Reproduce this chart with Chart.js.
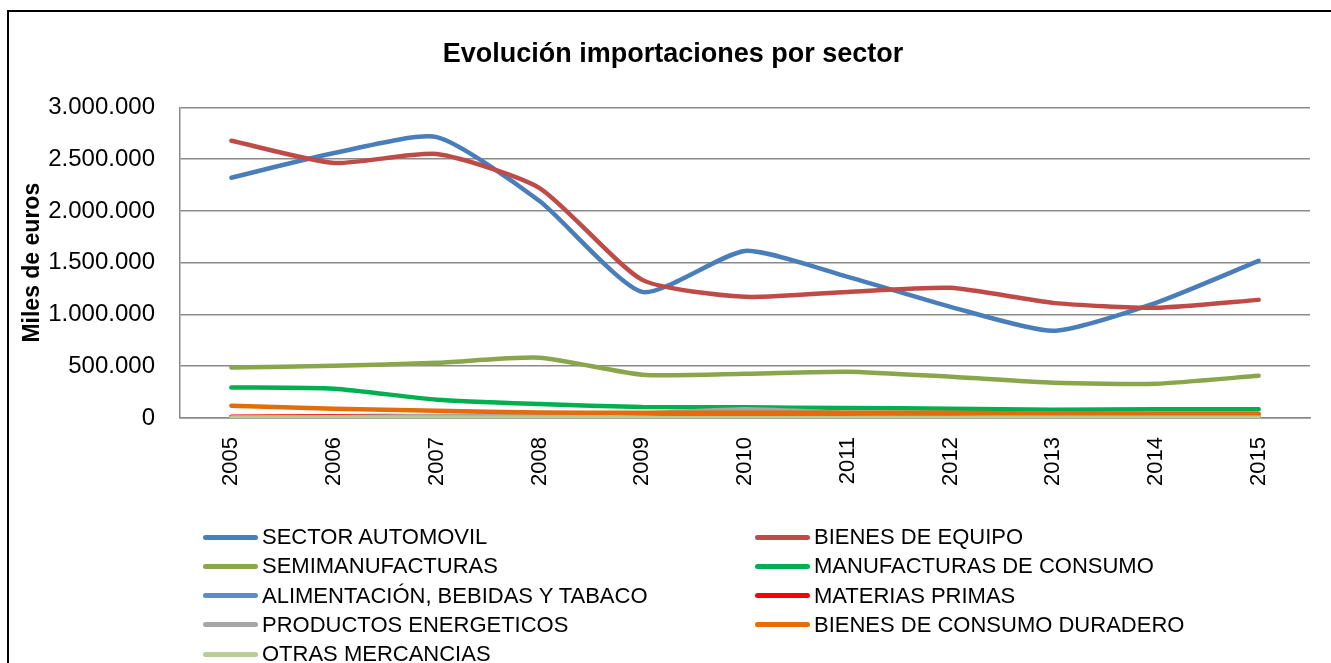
<!DOCTYPE html>
<html>
<head>
<meta charset="utf-8">
<script src="https://cdn.jsdelivr.net/npm/chart.js@4.4.1/dist/chart.umd.min.js"></script>
<style>
  html, body { margin: 0; padding: 0; background: #fff; overflow: hidden; }
  #wrap { position: relative; width: 1331px; height: 663px; overflow: hidden; }
  #marco { position: absolute; left: 7px; top: 10px; width: 1400px; height: 700px; border: 2px solid #000; box-sizing: border-box; pointer-events: none; }
  #grafico { position: absolute; left: 0; top: 0; }
  .ley-linea { position: absolute; width: 55px; height: 5px; border-radius: 3px; }
  .ley-texto { position: absolute; font: 22px "Liberation Sans", Arial, sans-serif; color: #000; line-height: 26px; white-space: nowrap; }
</style>
</head>
<body>
<div id="wrap">
  <canvas id="grafico" width="1331" height="663"></canvas>
  <div id="marco"></div>
  <div id="leyenda"></div>
</div>
<script>
// datos sacados del grafico (miles de euros)
const anios = ['2005', '2006', '2007', '2008', '2009', '2010', '2011', '2012', '2013', '2014', '2015'];

const sectorAutomovil  = [2321000, 2559000, 2713000, 2096000, 1218000, 1614000, 1363000, 1074000, 842000, 1112000, 1517000];
const bienesEquipo     = [2678000, 2463000, 2549000, 2221000, 1334000, 1170000, 1218000, 1257000, 1112000, 1064000, 1141000];
const semimanufacturas = [488000, 504000, 533000, 582000, 418000, 427000, 447000, 398000, 341000, 331000, 408000];
const manufConsumo     = [295000, 283000, 177000, 135000, 106000, 104000, 96000, 90000, 80000, 85000, 85000];
const alimentacion     = [4000, 4000, 4000, 3000, 3000, 3000, 3000, 3000, 3000, 3000, 3000];
const materiasPrimas   = [12000, 18000, 18000, 14000, 8000, 10000, 10000, 9000, 8000, 8000, 8000];
const prodEnergeticos  = [5000, 10000, 20000, 30000, 45000, 85000, 50000, 48000, 40000, 35000, 35000];
const consumoDuradero  = [119000, 90000, 70000, 54000, 51000, 51000, 50000, 50000, 42000, 40000, 40000];
const otrasMercancias  = [2000, 2000, 2000, 2000, 2000, 2000, 2000, 2000, 2000, 2000, 2000];

const nombres = ['SECTOR AUTOMOVIL', 'BIENES DE EQUIPO', 'SEMIMANUFACTURAS', 'MANUFACTURAS DE CONSUMO',
  'ALIMENTACIÓN, BEBIDAS Y TABACO', 'MATERIAS PRIMAS', 'PRODUCTOS ENERGETICOS',
  'BIENES DE CONSUMO DURADERO', 'OTRAS MERCANCIAS'];
const series = [sectorAutomovil, bienesEquipo, semimanufacturas, manufConsumo, alimentacion,
  materiasPrimas, prodEnergeticos, consumoDuradero, otrasMercancias];
const colores = ['#4A7EBB', '#BE4B48', '#8AA64C', '#00B050', '#558ED5', '#FF0000', '#A6A6A6', '#E46C0A', '#B7CD95'];

const yTicks = [0, 500000, 1000000, 1500000, 2000000, 2500000, 3000000];

// formato español con puntos
function conPuntos(v) {
  return String(v).replace(/\B(?=(\d{3})+(?!\d))/g, '.');
}

const fuente = '"Liberation Sans", Arial, sans-serif';
const gris = '#8a8a8a';

// como en excel, la ultima serie queda encima
const datasets = series.map((s, i) => ({
  label: nombres[i],
  data: s,
  borderColor: colores[i],
  backgroundColor: colores[i],
  borderWidth: 4.5,
  borderCapStyle: 'round',
  borderJoinStyle: 'round',
  pointRadius: 0,
  tension: 0.2,
  fill: false,
  order: series.length - i
}));

const chart = new Chart(document.getElementById('grafico'), {
  type: 'line',
  data: { labels: anios, datasets: datasets },
  options: {
    responsive: false,
    animation: false,
    devicePixelRatio: 1,
    layout: { padding: { left: 36, right: 21, top: 0, bottom: 165 } },
    plugins: {
      legend: { display: false },
      tooltip: { enabled: false },
      title: {
        display: true,
        text: 'Evolución importaciones por sector',
        color: '#000',
        font: { family: fuente, size: 27, weight: 'bold', lineHeight: 1.2 },
        padding: { top: 38, bottom: 37 }
      }
    },
    scales: {
      x: {
        offset: true,
        grid: { display: false, drawTicks: false },
        border: { display: true, color: gris, width: 1.5 },
        ticks: {
          color: '#000',
          font: { family: fuente, size: 22 },
          minRotation: 90,
          maxRotation: 90,
          padding: 19
        },
        afterFit: (scale) => { scale.height = 80; }
      },
      y: {
        min: 0,
        max: 3000000,
        grid: { color: gris, lineWidth: 1.5, drawTicks: false },
        border: { display: true, color: gris, width: 1.5 },
        afterBuildTicks: (scale) => { scale.ticks = yTicks.map(v => ({ value: v })); },
        ticks: {
          color: '#000',
          font: { family: fuente, size: 24 },
          padding: 25,
          callback: (v) => conPuntos(v)
        },
        title: {
          display: true,
          text: 'Miles de euros',
          color: '#000',
          font: { family: fuente, size: 23, weight: 'bold', lineHeight: 1.2 },
          padding: { top: -17, bottom: 0 }
        },
        afterFit: (scale) => { scale.width = 144; }
      }
    }
  }
});

// leyenda en dos columnas, como la del excel
const leyenda = document.getElementById('leyenda');
const colX = [203, 755];
const fila0 = 537, altoFila = 29.3;
chart.data.datasets.forEach((ds, i) => {
  const col = i % 2, fila = Math.floor(i / 2);
  const y = fila0 + fila * altoFila;
  const linea = document.createElement('div');
  linea.className = 'ley-linea';
  linea.style.left = colX[col] + 'px';
  linea.style.top = (y - 2.5) + 'px';
  linea.style.background = ds.borderColor;
  const txt = document.createElement('div');
  txt.className = 'ley-texto';
  txt.style.left = (colX[col] + 59) + 'px';
  txt.style.top = (y - 13) + 'px';
  txt.textContent = ds.label;
  leyenda.appendChild(linea);
  leyenda.appendChild(txt);
});
</script>
</body>
</html>
